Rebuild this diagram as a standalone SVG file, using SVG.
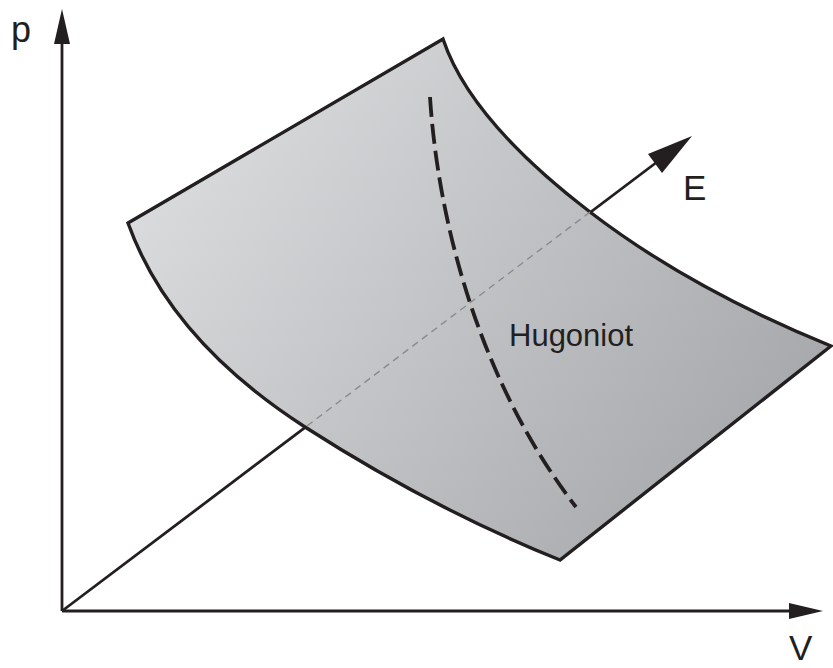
<svg xmlns="http://www.w3.org/2000/svg" width="833" height="668" viewBox="0 0 833 668">
<style>
.axis{stroke:#231f20;stroke-width:2.8;fill:none}
.head{fill:#231f20}
.outline{stroke:#231f20;stroke-width:3.4;fill:url(#g);stroke-linejoin:miter}
.hug{stroke:#231f20;stroke-width:3.8;fill:none;stroke-dasharray:20 7}
.hidden{stroke:#8a8b8d;stroke-width:1.4;fill:none;stroke-dasharray:7 5}
.lbl{font-family:"Liberation Sans",Arial,sans-serif;fill:#231f20}
</style>
<defs>
<linearGradient id="g" gradientUnits="userSpaceOnUse" x1="160" y1="120" x2="760" y2="560">
<stop offset="0" stop-color="#dcdddf"/>
<stop offset="1" stop-color="#a2a4a7"/>
</linearGradient>
</defs>
<g id="connectors">
<line class="axis" x1="62" y1="611" x2="62" y2="40"/>
<polygon class="head" points="62,9 70,44 54,44"/>
<line class="axis" x1="62" y1="611" x2="792" y2="611"/>
<polygon class="head" points="823,611 789,603 789,619"/>
<line class="axis" x1="62" y1="611" x2="657" y2="162"/>
<polygon class="head" points="692,136 662,173 648,154"/>
</g>
<g id="surface">
<path class="outline" d="M128,223 L443,39 Q470,120 590,212 Q690,288.7 831,346 L560,560 Q430,507.5 305,427 Q170,340 128,223 Z"/>
<path class="hidden" d="M307,426 L590,212"/>
<path class="hug" d="M430,97 C438,220 478,380 576,507"/>
</g>
<g id="labels">
<text class="lbl" x="11" y="42" font-size="36">p</text>
<text class="lbl" x="683" y="200" font-size="35">E</text>
<text class="lbl" x="789" y="660" font-size="35">V</text>
<text class="lbl" x="509" y="346" font-size="31">Hugoniot</text>
</g>
</svg>
